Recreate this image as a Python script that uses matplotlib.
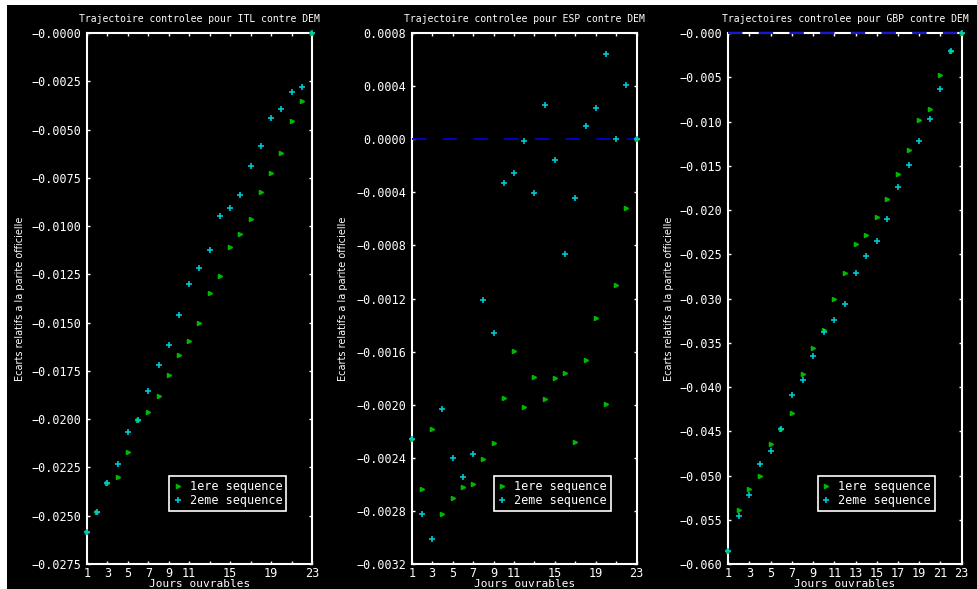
import numpy as np
import matplotlib
matplotlib.use('Agg')
import matplotlib.pyplot as plt
from matplotlib.patches import Rectangle

plt.rcParams['font.family'] = ['DejaVu Sans Mono', 'DejaVu Sans']

MONO = 'DejaVu Sans Mono'
GREEN = '#00b800'
CYAN = '#00c8d0'
BLUE = '#0000d0'

days = list(range(1, 24))

# ITL contre DEM
itl_seq1 = [-0.02586, -0.02483, -0.02331, -0.02300, -0.02170, -0.02006, -0.01965, -0.01882,
            -0.01773, -0.01666, -0.01597, -0.01502, -0.01345, -0.01260, -0.01110, -0.01041,
            -0.00962, -0.00824, -0.00725, -0.00622, -0.00458, -0.00351, 0.0]
itl_seq2 = [-0.02586, -0.02483, -0.02331, -0.02230, -0.02067, -0.02006, -0.01852, -0.01720,
            -0.01614, -0.01462, -0.01298, -0.01217, -0.01122, -0.00950, -0.00906, -0.00841,
            -0.00691, -0.00587, -0.00442, -0.00394, -0.00307, -0.00280, 0.0]

# ESP contre DEM
esp_seq1 = [-0.002260, -0.002636, -0.002185, -0.002822, -0.002699, -0.002621, -0.002596, -0.002408,
            -0.002286, -0.001952, -0.001594, -0.002015, -0.001790, -0.001957, -0.001802, -0.001764,
            -0.002283, -0.001664, -0.001346, -0.001997, -0.001100, -0.000516, 0.0]
esp_seq2 = [-0.002260, -0.002824, -0.003012, -0.002035, -0.002403, -0.002546, -0.002370, -0.001213,
            -0.001456, -0.000331, -0.000256, -0.000010, -0.000406, 0.000261, -0.000155, -0.000867,
            -0.000441, 0.000098, 0.000233, 0.000642, 0.0, 0.000411, 0.0]

# GBP contre DEM
gbp_seq1 = [-0.05858, -0.05387, -0.05153, -0.05000, -0.04644, -0.04475, -0.04294, -0.03853,
            -0.03560, -0.03360, -0.03002, -0.02712, -0.02384, -0.02287, -0.02079, -0.01872,
            -0.01590, -0.01319, -0.00988, -0.00859, -0.00471, -0.00200, 0.0]
gbp_seq2 = [-0.05858, -0.05462, -0.05225, -0.04870, -0.04720, -0.04475, -0.04095, -0.03918,
            -0.03646, -0.03383, -0.03240, -0.03062, -0.02712, -0.02516, -0.02347, -0.02098,
            -0.01745, -0.01496, -0.01225, -0.00972, -0.00629, -0.00200, 0.0]

titles = ['Trajectoire controlee pour ITL contre DEM',
          'Trajectoire controlee pour ESP contre DEM',
          'Trajectoires controlee pour GBP contre DEM']
ylabel = 'Ecarts relatifs a la parite officielle'
xlabel = 'Jours ouvrables'
legend_labels = ['1ere sequence', '2eme sequence']

xticks = list(range(1, 24, 2))
xlabels_short = ['1', '3', '5', '7', '9', '11', '', '15', '', '19', '', '23']
xlabels_full = [str(v) for v in xticks]

itl_yticks = [-0.0275 + 0.0025 * i for i in range(12)]
itl_ylabels = ['\u22120.0275', '\u22120.0250', '\u22120.0225', '\u22120.0200', '\u22120.0175',
               '\u22120.0150', '\u22120.0125', '\u22120.0100', '\u22120.0075', '\u22120.0050',
               '\u22120.0025', '\u22120.0000']
esp_yticks = [-0.0032 + 0.0004 * i for i in range(11)]
esp_ylabels = ['\u22120.0032', '\u22120.0028', '\u22120.0024', '\u22120.0020', '\u22120.0016',
               '\u22120.0012', '\u22120.0008', '\u22120.0004', '0.0000', '0.0004', '0.0008']
gbp_yticks = [-0.060 + 0.005 * i for i in range(13)]
gbp_ylabels = ['\u22120.060', '\u22120.055', '\u22120.050', '\u22120.045', '\u22120.040',
               '\u22120.035', '\u22120.030', '\u22120.025', '\u22120.020', '\u22120.015',
               '\u22120.010', '\u22120.005', '\u22120.000']

panels = [
    dict(s1=itl_seq1, s2=itl_seq2, ylim=(-0.0275, 0.0), yt=itl_yticks, yl=itl_ylabels,
         xl=xlabels_short, zero=False, pos=[0.0890, 0.0424, 0.2303, 0.9015], ylx=-0.276),
    dict(s1=esp_seq1, s2=esp_seq2, ylim=(-0.0032, 0.0008), yt=esp_yticks, yl=esp_ylabels,
         xl=xlabels_short, zero=True, pos=[0.4214, 0.0424, 0.2303, 0.9015], ylx=-0.283),
    dict(s1=gbp_seq1, s2=gbp_seq2, ylim=(-0.060, 0.0), yt=gbp_yticks, yl=gbp_ylabels,
         xl=xlabels_full, zero=True, pos=[0.7454, 0.0424, 0.2389, 0.9015], ylx=-0.233),
]

fig = plt.figure(figsize=(9.77, 5.89), dpi=100, facecolor='white')
# fond noir de la capture (petite marge blanche a gauche et en haut)
bg = Rectangle((7 / 977, 0), 970 / 977, 584 / 589, transform=fig.transFigure,
               facecolor='black', edgecolor='none', zorder=-10)
fig.add_artist(bg)

for i, p in enumerate(panels):
    ax = fig.add_axes(p['pos'])
    ax.set_facecolor('black')
    ax.set_xlim(1, 23)
    ax.set_ylim(*p['ylim'])

    if p['zero']:
        ax.axhline(0, color=BLUE, lw=1.3, dashes=(8, 9), clip_on=False, zorder=4)

    ax.plot(days, p['s1'], ls='none', marker='>', ms=3, color=GREEN, mec=GREEN,
            clip_on=False, zorder=5, label=legend_labels[0])
    ax.plot(days, p['s2'], ls='none', marker='+', ms=4, mew=1.2, color=CYAN,
            clip_on=False, zorder=6, label=legend_labels[1])

    for sp in ax.spines.values():
        sp.set_color('white')
        sp.set_linewidth(1.5)

    ax.set_xticks(xticks)
    ax.set_xticklabels(p['xl'])
    ax.set_yticks(p['yt'])
    ax.set_yticklabels(p['yl'])
    ax.tick_params(direction='in', length=2.5, width=1, color='white', labelcolor='white',
                   top=True, right=True, labelsize=8.5)
    ax.tick_params(axis='y', pad=4)
    ax.tick_params(axis='x', pad=2)
    for lab in ax.get_xticklabels() + ax.get_yticklabels():
        lab.set_fontfamily(MONO)

    ax.set_title(titles[i], color='white', fontsize=7, family=MONO, pad=8)
    ax.set_xlabel(xlabel, color='white', fontsize=8, family=MONO, va='top')
    ax.xaxis.set_label_coords(0.5, -0.028)
    ax.set_ylabel(ylabel, color='white', fontsize=7, family='DejaVu Sans')
    ax.yaxis.set_label_coords(p['ylx'], 0.5)

    leg = ax.legend(loc='upper right', bbox_to_anchor=(0.886, 0.166), frameon=True,
                    fancybox=False, facecolor='black', edgecolor='white', framealpha=1,
                    prop={'family': MONO, 'size': 8.5}, handlelength=0.8,
                    handletextpad=0.6, borderpad=0.35, labelspacing=0.1, borderaxespad=0)
    leg.get_frame().set_linewidth(1.2)
    for t in leg.get_texts():
        t.set_color('white')

fig.savefig('out.png', dpi=100, facecolor=fig.get_facecolor())
